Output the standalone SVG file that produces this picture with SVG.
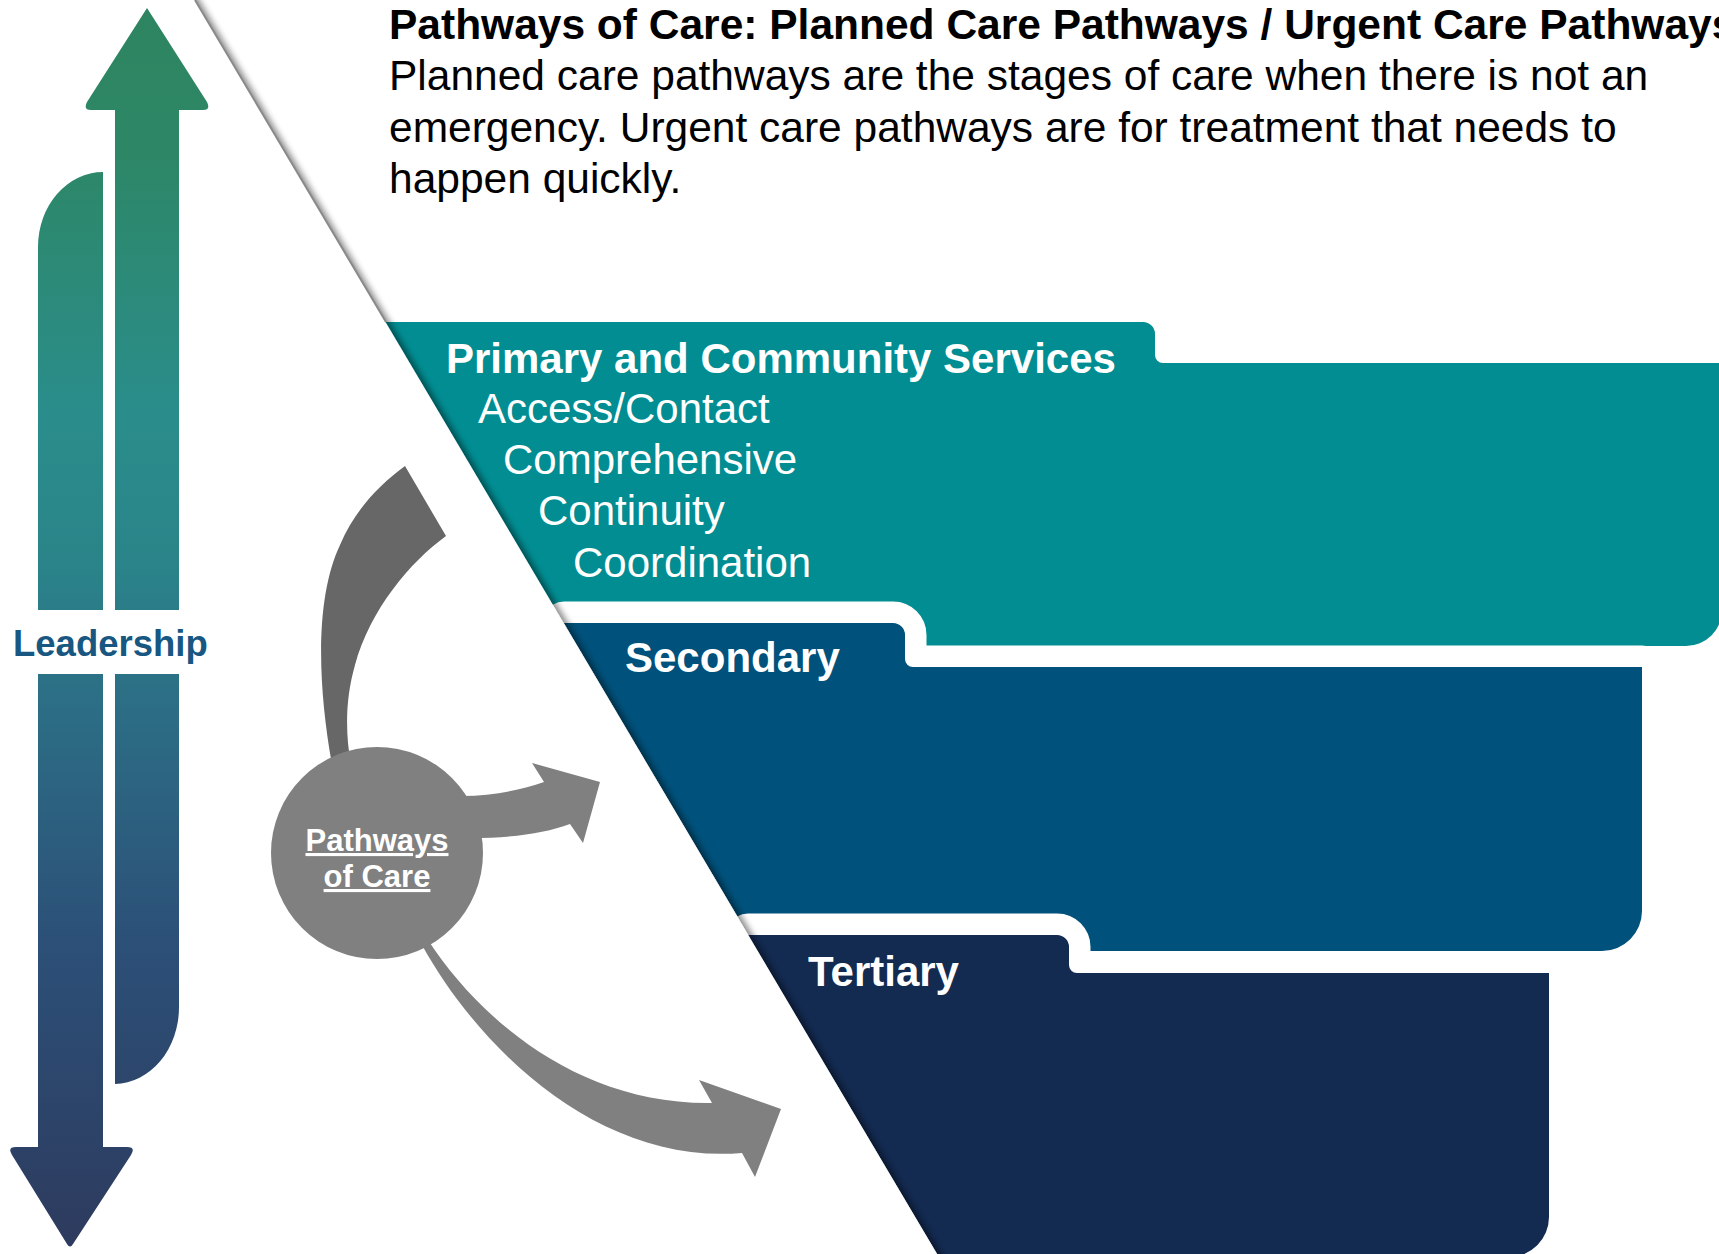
<svg xmlns="http://www.w3.org/2000/svg" width="1719" height="1254" viewBox="0 0 1719 1254">
  <defs>
    <linearGradient id="leadGrad" gradientUnits="userSpaceOnUse" x1="0" y1="0" x2="0" y2="1254">
      <stop offset="0" stop-color="#2E8460"/>
      <stop offset="0.12" stop-color="#2D8766"/>
      <stop offset="0.33" stop-color="#2A8D8B"/>
      <stop offset="0.45" stop-color="#2A8489"/>
      <stop offset="0.55" stop-color="#2C7086"/>
      <stop offset="0.75" stop-color="#2C5078"/>
      <stop offset="1" stop-color="#2D3A5D"/>
    </linearGradient>
    <filter id="edgeShadow" filterUnits="userSpaceOnUse" x="-40" y="-40" width="1100" height="1340">
      <feGaussianBlur in="SourceAlpha" stdDeviation="3"/>
      <feOffset dx="5" dy="1"/>
      <feComponentTransfer><feFuncA type="linear" slope="0.45"/></feComponentTransfer>
      <feMerge><feMergeNode/><feMergeNode in="SourceGraphic"/></feMerge>
    </filter>
  </defs>
  <style>
    .band { stroke: #ffffff; stroke-width: 43; stroke-linejoin: round; paint-order: stroke; }
    .t { font-family: "Liberation Sans", Arial, sans-serif; }
    .bandHead { font-family: "Liberation Sans", Arial, sans-serif; font-weight: bold; font-size: 42px; fill: #ffffff; }
    .bandItem { font-family: "Liberation Sans", Arial, sans-serif; font-size: 42px; fill: #ffffff; }
    .garrow { fill: #808080; }
  </style>

  <rect x="0" y="0" width="1719" height="1254" fill="#ffffff"/>

  <!-- Bands -->
  <g id="node-primary">
    <path d="M385,322 H1143 A12,12 0 0 1 1155,334 V355 A8,8 0 0 0 1163,363 H1722 V610 A36,36 0 0 1 1686,646 H577 Z" fill="#018D92"/>
    <text class="bandHead" x="446" y="373">Primary and Community Services</text>
    <text class="bandItem" x="478" y="423">Access/Contact</text>
    <text class="bandItem" x="503" y="474">Comprehensive</text>
    <text class="bandItem" x="538" y="525">Continuity</text>
    <text class="bandItem" x="573" y="577">Coordination</text>
  </g>
  <g id="node-secondary">
    <path class="band" d="M564,623 H893 A12,12 0 0 1 905,635 V659 A8,8 0 0 0 913,667 H1642 V911 A40,40 0 0 1 1602,951 H758 Z" fill="#00517B"/>
    <text class="bandHead" x="625" y="672">Secondary</text>
  </g>
  <g id="node-tertiary">
    <path class="band" d="M748,935 H1057 A12,12 0 0 1 1069,947 V965 A8,8 0 0 0 1077,973 H1549 V1217 A40,40 0 0 1 1509,1257 H939 Z" fill="#132A51"/>
    <text class="bandHead" x="808" y="986">Tertiary</text>
  </g>

  <!-- White wedge with shadowed edge -->
  <g id="wedge">
    <path d="M-20,-20 H183 L944,1266 H-20 Z" fill="#ffffff" filter="url(#edgeShadow)"/>
    <line x1="195" y1="0" x2="386" y2="322" stroke="#8a8a8a" stroke-width="2"/>
  </g>

  <!-- Title -->
  <g id="title" class="t">
    <text x="389" y="38.5" font-size="42.5" font-weight="bold" fill="#000000">Pathways of Care: Planned Care Pathways / Urgent Care Pathways</text>
    <text x="389" y="90" font-size="42.5" fill="#000000">Planned care pathways are the stages of care when there is not an</text>
    <text x="389" y="141.5" font-size="42.5" fill="#000000">emergency. Urgent care pathways are for treatment that needs to</text>
    <text x="389" y="193" font-size="42.5" fill="#000000">happen quickly.</text>
  </g>

  <!-- Leadership -->
  <g id="node-leadership">
    <path d="M147,8 L207,102 Q211,110 203,110 H179 V1007 A65,77 0 0 1 115,1084 V110 H91 Q83,110 87,102 Z" fill="url(#leadGrad)"/>
    <path d="M103,172 V1147 H127 Q136,1147 131,1155 L73,1244 Q70,1249 67,1244 L12,1155 Q7,1147 16,1147 H38 V247 A65,75 0 0 1 103,172 Z" fill="url(#leadGrad)"/>
    <rect x="25" y="610" width="170" height="64" fill="#ffffff"/>
    <text class="t" x="13" y="656" font-size="36.5" font-weight="bold" fill="#185781">Leadership</text>
  </g>

  <!-- Connectors -->
  <g id="connectors">
    <path d="M333,770 C318,690 314,600 340,545 C355,510 378,486 405,466 L446,536 C410,562 370,610 355,665 C345,700 345,735 352,770 Z" fill="#676767"/>
    <path class="garrow" d="M455,796 C490,797 520,790 544,782 L532,763 L600,782 L583,843 L570,824 C545,833 515,838 470,838 Z"/>
    <path class="garrow" d="M428,940 C480,1020 580,1105 712,1103 L699,1080 L781,1109 L755,1177 L742,1153 C600,1165 480,1050 422,945 Z"/>
  </g>

  <!-- Pathways of Care hub -->
  <g id="node-pathways">
    <circle cx="377" cy="853" r="106" fill="#808080"/>
    <text class="t" x="377" y="851" font-size="31" font-weight="bold" fill="#ffffff" text-anchor="middle" text-decoration="underline">Pathways</text>
    <text class="t" x="377" y="887" font-size="31" font-weight="bold" fill="#ffffff" text-anchor="middle" text-decoration="underline">of Care</text>
  </g>
</svg>
